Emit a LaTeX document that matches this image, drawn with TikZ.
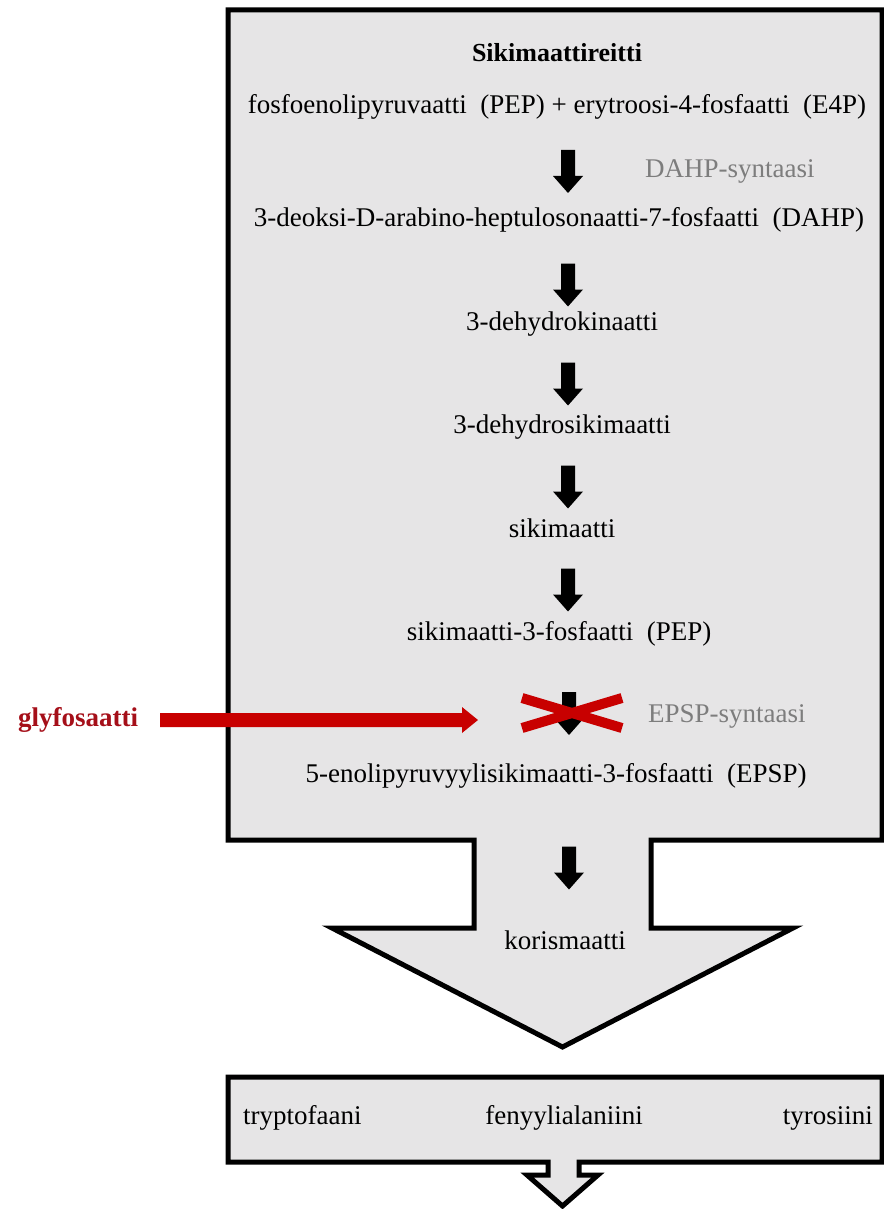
\documentclass[tikz,border=0pt]{standalone}
\usepackage{fontspec}
\setmainfont{Liberation Serif}
\usetikzlibrary{calc}
\definecolor{boxgrey}{RGB}{230,229,230}
\definecolor{labgrey}{RGB}{125,125,125}
\definecolor{redx}{RGB}{200,0,0}
\definecolor{darkred}{RGB}{165,15,25}
\tikzset{
  darr/.pic={\fill[black] (-7,-21.5) -- (7,-21.5) -- (7,4.5) -- (15,4.5) -- (0,21.5) -- (-15,4.5) -- (-7,4.5) -- cycle;},
  txt/.style={font=\fontsize{27}{32}\selectfont, text height=19pt, text depth=6pt, inner sep=0pt},
  lab/.style={txt, text=labgrey, anchor=west},
  outline/.style={draw=black, line width=5pt, fill=boxgrey, line join=miter},
}
\begin{document}
\begin{tikzpicture}[x=1pt,y=-1pt]
\useasboundingbox (0,0) rectangle (883,1209);
% main box with neck and arrow head
\draw[outline] (228,10) -- (882,10) -- (882,840) -- (651,840) -- (651,928) -- (793,928)
  -- (562.5,1047) -- (332,928) -- (474,928) -- (474,840) -- (228,840) -- cycle;
% bottom box with small hollow arrow
\draw[outline] (228,1077) -- (882,1077) -- (882,1162) -- (579,1162) -- (579,1175) -- (598,1175)
  -- (562.5,1206) -- (527,1175) -- (548,1175) -- (548,1162) -- (228,1162) -- cycle;
% texts
\node[txt, font=\fontsize{26}{30}\selectfont\bfseries] (title) at (557,55) {Sikimaattireitti};
\node[txt] (pep) at (557,107) {fosfoenolipyruvaatti~~(PEP) + erytroosi-4-fosfaatti~~(E4P)};
\node[txt] (dahp) at (559,220) {3-deoksi-D-arabino-heptulosonaatti-7-fosfaatti~~(DAHP)};
\node[txt] (dhq) at (562,324) {3-dehydrokinaatti};
\node[txt] (dhs) at (562,427) {3-dehydrosikimaatti};
\node[txt] (shik) at (562,531) {sikimaatti};
\node[txt] (s3p) at (559,634) {sikimaatti-3-fosfaatti~~(PEP)};
\node[txt] (epsp) at (556,776) {5-enolipyruvyylisikimaatti-3-fosfaatti~~(EPSP)};
\node[txt] (kor) at (565,943) {korismaatti};
\node[txt, anchor=west] (trp) at (243,1118) {tryptofaani};
\node[txt] (phe) at (564,1118) {fenyylialaniini};
\node[txt, anchor=east] (tyr) at (873,1118) {tyrosiini};
\node[lab] (dahps) at (645,171) {DAHP-syntaasi};
\node[lab] (epsps) at (648,716) {EPSP-syntaasi};
% block arrows
\pic at (568,171.5) {darr};
\pic at (568,285) {darr};
\pic at (568,384) {darr};
\pic at (568,487) {darr};
\pic at (568,590) {darr};
\pic at (569,713.5) {darr};
\pic at (569,868) {darr};
% red cross
\draw[redx, line width=10pt] (522,698) -- (622,728) (522,728) -- (622,698);
% glyfosaatti and red arrow
\node[txt, anchor=west, text=darkred, font=\fontsize{27}{32}\selectfont\bfseries] (gly) at (18,720) {glyfosaatti};
\coordinate (rs) at (160,720);
\coordinate (re) at (478,720);
\fill[redx] ($(rs)+(0,-7)$) -- ($(re)+(-16,-7)$) -- ($(re)+(-16,-13)$) -- (re)
  -- ($(re)+(-16,13)$) -- ($(re)+(-16,7)$) -- ($(rs)+(0,7)$) -- cycle;
\end{tikzpicture}
\end{document}
